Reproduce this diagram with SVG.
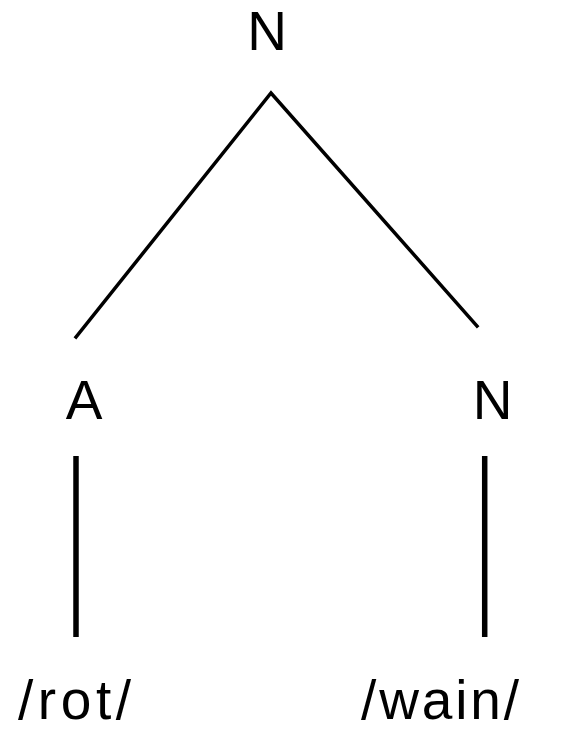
<svg xmlns="http://www.w3.org/2000/svg" width="574" height="731" viewBox="0 0 574 731">
<style>
.lbl{font-family:"Liberation Sans",Arial,sans-serif;font-size:55px;fill:#000;text-anchor:middle}
.ln{stroke:#000;fill:none}
</style>
<rect width="574" height="731" fill="#fff"/>
<g id="connectors">
<polyline class="ln" points="76,337 271,93 477,326" stroke-width="3.5" stroke-linecap="square" stroke-linejoin="miter"/>
<line class="ln" x1="76" y1="456" x2="76" y2="637" stroke-width="5.5"/>
<line class="ln" x1="484.7" y1="456" x2="484.7" y2="637" stroke-width="5.5"/>
</g>
<g id="node-N-top"><text class="lbl" x="267" y="50">N</text></g>
<g id="node-A"><text class="lbl" x="84" y="419">A</text></g>
<g id="node-N-right"><text class="lbl" x="492.5" y="419">N</text></g>
<g id="node-rot"><text class="lbl" x="74.5" y="719" textLength="113" lengthAdjust="spacing">/rot/</text></g>
<g id="node-wain"><text class="lbl" x="440" y="719" textLength="158" lengthAdjust="spacing">/wain/</text></g>
</svg>
